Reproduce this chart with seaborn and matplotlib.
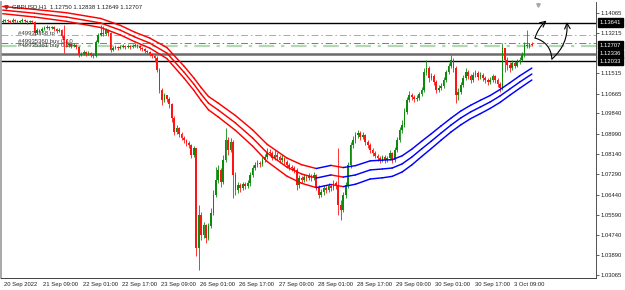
import numpy as np
import pandas as pd
import matplotlib
matplotlib.use('Agg')
import matplotlib.pyplot as plt
import matplotlib.transforms as mtransforms
import seaborn as sns

# GBPUSD H1 candles, 20 Sep 2022 17:00 .. 3 Oct 2022 17:00
FIRST_OPEN = 1.1367
closes = [
    1.1371, 1.1375, 1.1371, 1.1367, 1.1375, 1.1371, 1.1367, 1.1371, 1.1375, 1.1371,
    1.1367, 1.1371, 1.1367, 1.1321, 1.1333, 1.1329, 1.1337, 1.1342, 1.1346, 1.1342,
    1.1346, 1.1337, 1.1329, 1.1333, 1.1308, 1.1291, 1.1270, 1.1275, 1.1266, 1.1270,
    1.1262, 1.1228, 1.1233, 1.1241, 1.1233, 1.1237, 1.1228, 1.1224, 1.1283, 1.1312,
    1.1321, 1.1316, 1.1333, 1.1321, 1.1249, 1.1258, 1.1262, 1.1258, 1.1262, 1.1266,
    1.1262, 1.1266, 1.1262, 1.1266, 1.1270, 1.1266, 1.1258, 1.1254, 1.1245, 1.1241,
    1.1233, 1.1224, 1.1216, 1.1166, 1.1082, 1.1040, 1.1061, 1.1044, 1.1023, 1.0965,
    1.0906, 1.0923, 1.0897, 1.0881, 1.0872, 1.0860, 1.0851, 1.0810, 1.0839, 1.0420,
    1.0558, 1.0474, 1.0516, 1.0462, 1.0512, 1.0566, 1.0642, 1.0705, 1.0747, 1.0696,
    1.0789, 1.0872, 1.0830, 1.0864, 1.0726, 1.0663, 1.0684, 1.0671, 1.0688, 1.0680,
    1.0692, 1.0726, 1.0755, 1.0768, 1.0776, 1.0772, 1.0789, 1.0801, 1.0822, 1.0818,
    1.0797, 1.0810, 1.0801, 1.0789, 1.0797, 1.0780, 1.0768, 1.0759, 1.0755, 1.0747,
    1.0684, 1.0713, 1.0705, 1.0717, 1.0713, 1.0721, 1.0713, 1.0726, 1.0675, 1.0642,
    1.0654, 1.0671, 1.0663, 1.0680, 1.0671, 1.0692, 1.0680, 1.0600, 1.0579, 1.0642,
    1.0684, 1.0768, 1.0851, 1.0872, 1.0893, 1.0902, 1.0885, 1.0893, 1.0864, 1.0851,
    1.0830, 1.0818, 1.0805, 1.0797, 1.0789, 1.0801, 1.0789, 1.0797, 1.0818, 1.0789,
    1.0830, 1.0872, 1.0914, 1.0935, 1.0990, 1.1040, 1.1061, 1.1053, 1.1044, 1.1048,
    1.1065, 1.1082, 1.1157, 1.1174, 1.1132, 1.1141, 1.1115, 1.1082, 1.1090, 1.1099,
    1.1124, 1.1157, 1.1182, 1.1207, 1.1174, 1.1061, 1.1074, 1.1103, 1.1132, 1.1157,
    1.1141, 1.1124, 1.1145, 1.1153, 1.1136, 1.1145, 1.1132, 1.1124, 1.1115, 1.1124,
    1.1141, 1.1124, 1.1107, 1.1090, 1.1258, 1.1207, 1.1186, 1.1174, 1.1195, 1.1182,
    1.1199, 1.1207, 1.1228, 1.1270, 1.1266, 1.1275, 1.1271,
]
highs = [
    1.1379, 1.1379, 1.1379, 1.1375, 1.1383, 1.1379, 1.1375, 1.1375, 1.1383, 1.1379,
    1.1375, 1.1375, 1.1375, 1.1371, 1.1342, 1.1337, 1.1346, 1.1350, 1.1354, 1.1350,
    1.1350, 1.1350, 1.1342, 1.1342, 1.1337, 1.1354, 1.1296, 1.1283, 1.1279, 1.1279,
    1.1275, 1.1266, 1.1241, 1.1249, 1.1245, 1.1245, 1.1241, 1.1237, 1.1291, 1.1321,
    1.1354, 1.1350, 1.1342, 1.1337, 1.1325, 1.1266, 1.1270, 1.1266, 1.1270, 1.1275,
    1.1270, 1.1275, 1.1270, 1.1275, 1.1279, 1.1275, 1.1270, 1.1262, 1.1258, 1.1249,
    1.1245, 1.1237, 1.1228, 1.1224, 1.1174, 1.1090, 1.1069, 1.1061, 1.1053, 1.1027,
    1.0973, 1.0935, 1.0927, 1.0906, 1.0889, 1.0877, 1.0868, 1.0856, 1.0847, 1.0839,
    1.0600, 1.0571, 1.0529, 1.0520, 1.0525, 1.0587, 1.0663, 1.0759, 1.0768, 1.0755,
    1.0810, 1.0923, 1.0885, 1.0881, 1.0872, 1.0738, 1.0696, 1.0692, 1.0696, 1.0696,
    1.0705, 1.0738, 1.0768, 1.0780, 1.0789, 1.0784, 1.0801, 1.0814, 1.0839, 1.0835,
    1.0826, 1.0830, 1.0822, 1.0810, 1.0810, 1.0801, 1.0789, 1.0776, 1.0768, 1.0763,
    1.0755, 1.0726, 1.0721, 1.0730, 1.0726, 1.0734, 1.0730, 1.0738, 1.0730, 1.0684,
    1.0667, 1.0684, 1.0680, 1.0692, 1.0688, 1.0705, 1.0701, 1.0839, 1.0621, 1.0654,
    1.0696, 1.0780, 1.0864, 1.0889, 1.0906, 1.0914, 1.0910, 1.0906, 1.0897, 1.0872,
    1.0860, 1.0839, 1.0826, 1.0814, 1.0805, 1.0810, 1.0810, 1.0805, 1.0830, 1.0822,
    1.0843, 1.0885, 1.0927, 1.0956, 1.1006, 1.1053, 1.1078, 1.1069, 1.1061, 1.1061,
    1.1074, 1.1094, 1.1174, 1.1207, 1.1182, 1.1153, 1.1149, 1.1124, 1.1103, 1.1111,
    1.1136, 1.1166, 1.1195, 1.1228, 1.1216, 1.1182, 1.1090, 1.1115, 1.1145, 1.1174,
    1.1166, 1.1149, 1.1157, 1.1166, 1.1161, 1.1157, 1.1153, 1.1141, 1.1132, 1.1136,
    1.1149, 1.1145, 1.1132, 1.1115, 1.1279, 1.1258, 1.1220, 1.1199, 1.1207, 1.1203,
    1.1212, 1.1220, 1.1241, 1.1283, 1.1333, 1.1279, 1.1284,
]
lows = [
    1.1363, 1.1367, 1.1367, 1.1363, 1.1363, 1.1367, 1.1363, 1.1363, 1.1367, 1.1367,
    1.1358, 1.1363, 1.1363, 1.1312, 1.1316, 1.1321, 1.1325, 1.1333, 1.1337, 1.1333,
    1.1337, 1.1329, 1.1321, 1.1325, 1.1300, 1.1237, 1.1262, 1.1262, 1.1258, 1.1262,
    1.1254, 1.1220, 1.1224, 1.1228, 1.1224, 1.1228, 1.1220, 1.1216, 1.1220, 1.1279,
    1.1308, 1.1308, 1.1312, 1.1308, 1.1241, 1.1245, 1.1254, 1.1249, 1.1254, 1.1258,
    1.1254, 1.1258, 1.1254, 1.1258, 1.1262, 1.1258, 1.1249, 1.1245, 1.1237, 1.1233,
    1.1224, 1.1216, 1.1199, 1.1157, 1.1069, 1.1019, 1.1032, 1.1032, 1.1006, 1.0948,
    1.0893, 1.0897, 1.0885, 1.0872, 1.0860, 1.0847, 1.0839, 1.0797, 1.0801, 1.0386,
    1.0328, 1.0453, 1.0462, 1.0441, 1.0453, 1.0504, 1.0558, 1.0634, 1.0692, 1.0675,
    1.0688, 1.0780, 1.0810, 1.0822, 1.0629, 1.0642, 1.0650, 1.0654, 1.0663, 1.0667,
    1.0671, 1.0680, 1.0717, 1.0747, 1.0759, 1.0759, 1.0763, 1.0780, 1.0793, 1.0805,
    1.0789, 1.0789, 1.0789, 1.0776, 1.0780, 1.0768, 1.0755, 1.0747, 1.0742, 1.0734,
    1.0663, 1.0671, 1.0692, 1.0696, 1.0701, 1.0705, 1.0701, 1.0705, 1.0663, 1.0629,
    1.0634, 1.0642, 1.0650, 1.0654, 1.0659, 1.0663, 1.0667, 1.0558, 1.0537, 1.0571,
    1.0629, 1.0671, 1.0755, 1.0839, 1.0860, 1.0881, 1.0872, 1.0877, 1.0851, 1.0839,
    1.0818, 1.0805, 1.0797, 1.0784, 1.0776, 1.0780, 1.0776, 1.0780, 1.0789, 1.0776,
    1.0780, 1.0822, 1.0864, 1.0902, 1.0927, 1.0981, 1.1032, 1.1040, 1.1032, 1.1036,
    1.1040, 1.1057, 1.1074, 1.1145, 1.1115, 1.1124, 1.1103, 1.1069, 1.1074, 1.1082,
    1.1090, 1.1115, 1.1149, 1.1174, 1.1157, 1.1027, 1.1040, 1.1065, 1.1094, 1.1124,
    1.1128, 1.1111, 1.1115, 1.1136, 1.1124, 1.1128, 1.1120, 1.1111, 1.1103, 1.1107,
    1.1115, 1.1111, 1.1094, 1.1074, 1.1082, 1.1157, 1.1166, 1.1157, 1.1166, 1.1174,
    1.1178, 1.1191, 1.1203, 1.1220, 1.1258, 1.1258, 1.1265,
]

# moving-average envelope, read at a few bars
band_bars = [0, 13, 26, 40, 48, 54, 60, 67, 74, 78, 81, 84, 88, 95, 102, 108, 116, 122, 128, 134,
             139, 144, 150, 155, 159, 163, 167, 171, 175, 179, 183, 187, 191, 195, 199, 203, 207,
             211, 216]
band_mid = [1.1417, 1.1404, 1.1388, 1.1363, 1.1333, 1.1304, 1.1279, 1.1237, 1.1157, 1.1107,
            1.1065, 1.1027, 1.0998, 1.0944, 1.0881, 1.0818, 1.0759, 1.0730, 1.0713, 1.0726,
            1.0717, 1.0726, 1.0747, 1.0751, 1.0755, 1.0772, 1.0801, 1.0835, 1.0868, 1.0902,
            1.0935, 1.0965, 1.0990, 1.1011, 1.1032, 1.1057, 1.1086, 1.1115, 1.1149]
band_half = [0.0015, 0.0016, 0.0018, 0.0019, 0.0020, 0.0020, 0.0021, 0.0023, 0.0025, 0.0026,
             0.0027, 0.0028, 0.0029, 0.0031, 0.0034, 0.0036, 0.0038, 0.0039, 0.0040, 0.0040,
             0.0040, 0.0039, 0.0038, 0.0037, 0.0035, 0.0034, 0.0033, 0.0032, 0.0031, 0.0030,
             0.0029, 0.0029, 0.0028, 0.0028, 0.0027, 0.0027, 0.0026, 0.0026, 0.0025]

x_tick_bars = [0, 16, 32, 48, 64, 80, 96, 112, 128, 144, 160, 176, 192, 208]
x_tick_labels = ['20 Sep 2022', '21 Sep 09:00', '22 Sep 01:00', '22 Sep 17:00', '23 Sep 09:00',
                 '26 Sep 01:00', '26 Sep 17:00', '27 Sep 09:00', '28 Sep 01:00', '28 Sep 17:00',
                 '29 Sep 09:00', '30 Sep 01:00', '30 Sep 17:00', '3 Oct 09:00']
y_ticks = [1.14065, 1.13215, 1.11515, 1.10665, 1.09840, 1.08990, 1.08140, 1.07290,
           1.06440, 1.05590, 1.04740, 1.03890, 1.03065]

resistance = 1.13641
support = 1.12033
zone = 1.12336
tp_level = 1.1312
buy_levels = [1.1279, 1.1266]
price_boxes = [1.13641, 1.12707, 1.12336, 1.12033]
order_notes = [('#49935368 tp', 1.1321), ('#49935360 buy 0.10', 1.1286), ('#49935361 buy 0.10', 1.1267)]
title = 'GBPUSD,H1  1.12750 1.12838 1.12649 1.12707'

# hand-drawn scenario arrows (bar, price)
arrow_up = [(217.3, 1.1300), (222.0, 1.1373)]
arrow_dip = [(217.3, 1.1300), (224.2, 1.1212), (230.3, 1.1367)]

GREEN = '#0b8a0b'
RED = '#ff1414'

sns.set_style('white')
plt.rcParams['font.family'] = ['Liberation Sans', 'DejaVu Sans']

fig = plt.figure(figsize=(6.25, 2.9), dpi=100)
ax = fig.add_axes([0.0024, 0.0414, 0.9512, 0.9517])

c = np.array(closes)
o = np.r_[FIRST_OPEN, c[:-1]]
h = np.array(highs)
l = np.array(lows)
bars = np.arange(len(c))
cols = np.where(c >= o, GREEN, RED)

# level lines
ax.axhline(resistance, color='black', lw=1.0, zorder=1)
ax.axhline(support, color='black', lw=1.0, zorder=1)
ax.axhline(zone, color='#6a6a6a', lw=1.8, zorder=1)
ax.axhline(tp_level, color='#ff8c5a', lw=0.7, ls=(0, (7, 3, 1.5, 3)), zorder=1)
ax.axhline(buy_levels[0], color='#4c9f4c', lw=0.7, ls=(0, (7, 3, 1.5, 3)), zorder=1)
ax.axhline(buy_levels[1], color='#b2dab2', lw=1.6, ls=(0, (7, 3, 1.5, 3)), zorder=1)

# candles
ax.vlines(bars, l, h, colors=cols, lw=0.6, zorder=2)
ax.bar(bars, np.maximum(np.abs(c - o), 0.00008), bottom=np.minimum(o, c), width=0.7,
       color=cols, linewidth=0, zorder=2)

# envelope, coloured by direction of each line
rows = []
seg = 0
mid = np.array(band_mid)
half = np.array(band_half)
for sign in (1, 0, -1):
    vals = mid + sign * half
    for k in range(len(band_bars) - 1):
        trend = 'up' if vals[k + 1] >= vals[k] else 'down'
        for j in (k, k + 1):
            rows.append({'bar': band_bars[j], 'price': vals[j], 'seg': seg, 'trend': trend})
        seg += 1
bands = pd.DataFrame(rows)
sns.lineplot(data=bands, x='bar', y='price', units='seg', estimator=None, hue='trend',
             palette={'up': '#0000ff', 'down': '#ff0000'}, lw=1.05, legend=False,
             sort=False, ax=ax, zorder=3)

# order labels
for txt, p in order_notes:
    ax.text(6.2, p, txt, fontsize=4.3, color='#3a3a3a', va='center', ha='left', zorder=4)

# scenario arrows
ap = dict(arrowstyle='->', color='black', lw=0.8, shrinkA=0, shrinkB=0)
ax.annotate('', xy=arrow_up[1], xytext=arrow_up[0],
            arrowprops=dict(ap, connectionstyle='arc3,rad=-0.15'), annotation_clip=False)
ax.annotate('', xy=arrow_dip[1], xytext=arrow_dip[0],
            arrowprops=dict(ap, arrowstyle='-', connectionstyle='arc3,rad=-0.35'), annotation_clip=False)
ax.annotate('', xy=arrow_dip[2], xytext=arrow_dip[1],
            arrowprops=dict(ap, connectionstyle='arc3,rad=0.25'), annotation_clip=False)

ax.set_xlim(-0.5, 242.2)
ax.set_ylim(1.0294, 1.1451)
ax.set_xlabel('')
ax.set_ylabel('')

ax.set_xticks(x_tick_bars)
ax.set_xticklabels(x_tick_labels, ha='left', fontsize=4.2)
ax.tick_params(axis='x', direction='out', length=2, width=0.5, pad=0.8, colors='#202020')
shift = mtransforms.ScaledTranslation(1.5 / 100, 0, fig.dpi_scale_trans)
for lbl in ax.get_xticklabels():
    lbl.set_transform(lbl.get_transform() + shift)

ax.yaxis.tick_right()
ax.set_yticks(y_ticks)
ax.set_yticklabels([f'{v:.5f}' for v in y_ticks], fontsize=4.2)
ax.tick_params(axis='y', direction='out', length=2, width=0.5, pad=1.5, colors='#202020')

ax.spines['top'].set_visible(False)
ax.spines['left'].set_color('#9a9a9a')
ax.spines['left'].set_linewidth(1.2)
ax.spines['right'].set_color('#505050')
ax.spines['right'].set_linewidth(0.7)
ax.spines['bottom'].set_color('#404040')
ax.spines['bottom'].set_linewidth(0.7)

# price boxes on the right scale
blend = mtransforms.blended_transform_factory(ax.transAxes, ax.transData)
for p in price_boxes:
    ax.text(1.006, p, f'{p:.5f}', transform=blend, fontsize=4.2, color='white',
            va='center', ha='left', clip_on=False, zorder=6,
            bbox=dict(boxstyle='square,pad=0.3', fc='black', ec='black'))

ax.plot([0.008], [0.982], marker='v', ms=2.5, color='#505050', transform=ax.transAxes, clip_on=False)
ax.text(0.018, 0.982, title, transform=ax.transAxes, fontsize=4.3, va='center', ha='left', color='#202020')
ax.plot([0.9025], [0.99], marker='v', ms=2.5, color='#a8a8a8', transform=ax.transAxes, clip_on=False)

fig.savefig('out.png', dpi=100)
